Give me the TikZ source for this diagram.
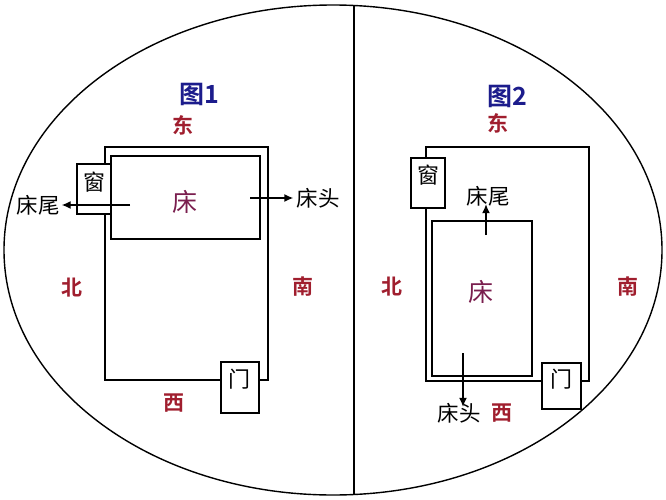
\documentclass[tikz,border=0pt]{standalone}
\usepackage{fontspec}
\newfontfamily\cjk{Noto Sans CJK SC}
\newfontfamily\cjkb{Noto Sans CJK SC Bold}
\usetikzlibrary{arrows.meta}
\definecolor{ttlblue}{HTML}{1C1C8C}
\definecolor{dirred}{HTML}{A01E2E}
\definecolor{bedred}{HTML}{7A1E4E}
\tikzset{
  wall/.style={draw=black, line width=1.7pt},
  box/.style={draw=black, line width=1.7pt, fill=white},
  title/.style={font=\cjkb\fontsize{25}{25}\selectfont, text=ttlblue, inner sep=0pt},
  dir/.style={font=\cjkb\fontsize{21}{21}\selectfont, text=dirred, inner sep=0pt},
  bedtxt/.style={font=\cjk\fontsize{25}{25}\selectfont, text=bedred, inner sep=0pt},
  lbl/.style={font=\cjk\fontsize{21.5}{21.5}\selectfont, text=black, inner sep=0pt},
  small/.style={font=\cjk\fontsize{22}{22}\selectfont, text=black, inner sep=0pt},
  arr/.style={-{Latex[length=9pt,width=8pt]}, line width=1.4pt},
}
\begin{document}
\begin{tikzpicture}[x=1pt,y=-1pt]
\useasboundingbox[fill=white] (0,0) rectangle (666,500);
% outer ellipse and divider
\draw[line width=1.4pt] (333,250) ellipse [x radius=329, y radius=245];
\coordinate (dtop) at (354,5);
\coordinate (dbot) at (354,495);
\draw[line width=1.4pt] (dtop) -- (dbot);

% ===== Figure 1 =====
\node[title] (t1) at (199,94) {图1};
\node[dir] (e1) at (183,125) {东};
\node[dir] (n1) at (72,288) {北};
\node[dir] (s1) at (303,287) {南};
\node[dir] (w1) at (174,403) {西};
\draw[wall] (105,147) rectangle (268,380);
\draw[box] (77,164) rectangle (111,214);
\node[small] (win1) at (94,182) {窗};
\draw[wall] (111,156) rectangle (260,239);
\node[bedtxt] (bed1) at (185,202) {床};
\draw[box] (221,362) rectangle (259,413);
\node[small] (door1) at (239,379) {门};
\node[lbl] (tail1) at (38,205) {床尾};
\node[lbl] (head1) at (318,198) {床头};
\coordinate (a1s) at (130,205);
\coordinate (a2s) at (250,198);
\draw[arr] (a1s) -- ([xshift=2pt]tail1.east);
\draw[arr] (a2s) -- ([xshift=-3pt]head1.west);

% ===== Figure 2 =====
\node[title] (t2) at (507,96) {图2};
\node[dir] (e2) at (498,123) {东};
\node[dir] (n2) at (392,287) {北};
\node[dir] (s2) at (628,287) {南};
\node[dir] (w2) at (502,413) {西};
\draw[wall] (426,147) rectangle (589,381);
\draw[box] (411,158) rectangle (445,208);
\node[small] (win2) at (428,175) {窗};
\draw[wall] (432,221) rectangle (532,376);
\node[bedtxt] (bed2) at (481,292) {床};
\draw[box] (542,363) rectangle (581,409);
\node[small] (door2) at (561,379) {门};
\node[lbl] (tail2) at (488,196) {床尾};
\node[lbl] (head2) at (459,413) {床头};
\coordinate (b1s) at (486,235);
\coordinate (b2s) at (463,353);
\draw[arr] (b1s) -- ([yshift=2pt]tail2.south -| b1s);
\draw[arr] (b2s) -- ([yshift=-4pt]head2.north -| b2s);
\end{tikzpicture}
\end{document}
